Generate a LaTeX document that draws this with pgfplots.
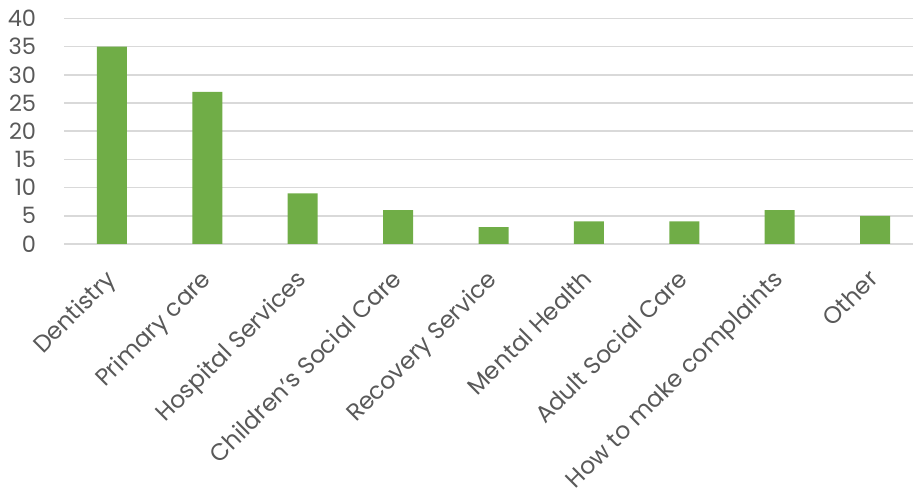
\documentclass[border=0pt]{standalone}
\usepackage{pgfplots}
\pgfplotsset{compat=1.18}
\usepackage{fontspec}
\setmainfont{Poppins}
\definecolor{bargreen}{HTML}{70AD47}
\definecolor{txtgray}{HTML}{595959}
\definecolor{gridgray}{HTML}{D9D9D9}
\begin{document}
\begin{tikzpicture}
\begin{axis}[
  scale only axis,
  width=858.4pt, height=225.5pt,
  xmin=-0.5, xmax=8.5,
  ymin=0, ymax=40,
  ytick={0,5,...,40},
  xtick=data,
  xticklabels={Dentistry,Primary care,Hospital Services,Children's Social Care,Recovery Service,Mental Health,Adult Social Care,How to make complaints,Other},
  axis line style={draw=none},
  major tick length=0pt,
  ymajorgrids,
  grid style={gridgray, line width=1.5pt},
  tick label style={text=txtgray},
  /pgf/number format/assume math mode=true,
  yticklabel style={font=\fontsize{22.5}{26}\selectfont, anchor=east, inner sep=0pt, xshift=-28pt},
  xticklabel style={font=\fontsize{23.7}{27}\selectfont, rotate=45, anchor=north east, inner sep=0pt, xshift=-22.6pt, yshift=-11.3pt},
  ybar, bar width=30pt,
  clip=false,
]
\addplot[fill=bargreen, draw=none] coordinates {
(0,35) (1,27) (2,9) (3,6) (4,3) (5,4) (6,4) (7,6) (8,5)};
\coordinate (bbl) at (rel axis cs:-0.0749,-1.113);
\coordinate (btr) at (rel axis cs:0.9887,1.082);
\end{axis}
\pgfresetboundingbox
\path (bbl) rectangle (btr);
\end{tikzpicture}
\end{document}
